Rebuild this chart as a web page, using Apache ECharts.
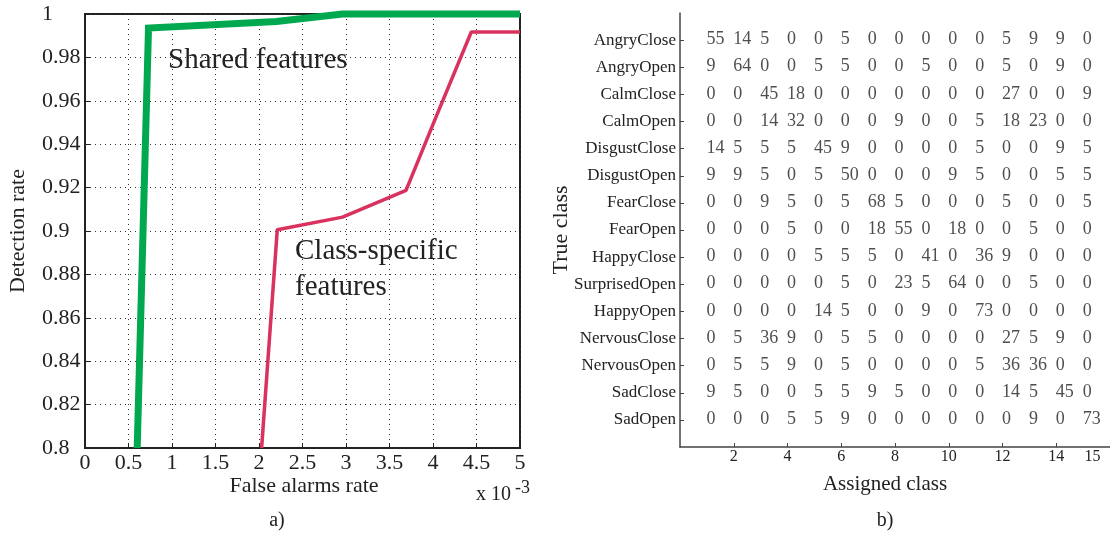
<!DOCTYPE html>
<html>
<head>
<meta charset="utf-8">
<script src="https://cdn.jsdelivr.net/npm/echarts@6/dist/echarts.min.js"></script>
<style>
html,body{margin:0;padding:0;background:#fff;}
#c{width:1110px;height:534px;}
</style>
</head>
<body>
<div id="c"></div>
<script>
// ---- Panel a) ROC-like curves (x in units of 1e-3) ----
const sharedX = [0.60, 0.73, 2.20, 2.96, 5.00];
const sharedY = [0.800, 0.9935, 0.9965, 1.000, 1.000];
const specificX = [2.03, 2.21, 2.96, 3.69, 4.06, 4.44, 5.00];
const specificY = [0.800, 0.9006, 0.9064, 0.9187, 0.955, 0.9917, 0.9917];

// ---- Panel b) confusion matrix ----
const rowNames = ['AngryClose','AngryOpen','CalmClose','CalmOpen','DisgustClose','DisgustOpen',
  'FearClose','FearOpen','HappyClose','SurprisedOpen','HappyOpen','NervousClose','NervousOpen',
  'SadClose','SadOpen'];
const confusion = [
  [55,14,5,0,0,5,0,0,0,0,0,5,9,9,0],
  [9,64,0,0,5,5,0,0,5,0,0,5,0,9,0],
  [0,0,45,18,0,0,0,0,0,0,0,27,0,0,9],
  [0,0,14,32,0,0,0,9,0,0,5,18,23,0,0],
  [14,5,5,5,45,9,0,0,0,0,5,0,0,9,5],
  [9,9,5,0,5,50,0,0,0,9,5,0,0,5,5],
  [0,0,9,5,0,5,68,5,0,0,0,5,0,0,5],
  [0,0,0,5,0,0,18,55,0,18,0,0,5,0,0],
  [0,0,0,0,5,5,5,0,41,0,36,9,0,0,0],
  [0,0,0,0,0,5,0,23,5,64,0,0,5,0,0],
  [0,0,0,0,14,5,0,0,9,0,73,0,0,0,0],
  [0,5,36,9,0,5,5,0,0,0,0,27,5,9,0],
  [0,5,5,9,0,5,0,0,0,0,5,36,36,0,0],
  [9,5,0,0,5,5,9,5,0,0,0,14,5,45,0],
  [0,0,0,5,5,9,0,0,0,0,0,0,9,0,73]
];
const matrixXTicks = [2,4,6,8,10,12,14];
const matrixXLabelPos = [2,4,6,8,10,12,14,15.35];
const matrixXLabels = ['2','4','6','8','10','12','14','15'];

const SERIF = '"Liberation Serif", "DejaVu Serif", serif';
const TXT = '#222';

const matrixData = [];
confusion.forEach((row, r) => row.forEach((v, c) => matrixData.push([c + 1, r + 1, v])));

const chart = echarts.init(document.getElementById('c'), null, {renderer: 'canvas'});
const option = {
  backgroundColor: '#fff',
  animation: false,
  grid: [
    {left: 85, top: 14, width: 435, height: 434, show: true, borderColor: '#222', borderWidth: 2, backgroundColor: 'transparent'},
    {left: 680, top: 13, width: 430, height: 434}
  ],
  xAxis: [
    {
      gridIndex: 0, type: 'value', min: 0, max: 5, interval: 0.5,
      axisLine: {show: true, onZero: false, lineStyle: {color: '#222', width: 2}},
      axisTick: {show: true, inside: true, length: 5, lineStyle: {color: '#222'}},
      axisLabel: {color: TXT, fontFamily: SERIF, fontSize: 22, margin: 4,
        formatter: v => String(+v.toFixed(1))},
      splitLine: {show: true, lineStyle: {color: '#333', width: 1, type: [1, 4]}}
    },
    {
      gridIndex: 1, type: 'value', min: 0, max: 16,
      axisLine: {show: true, onZero: false, lineStyle: {color: '#444', width: 1.5}},
      axisTick: {show: true, inside: true, length: 4, customValues: matrixXTicks, lineStyle: {color: '#444'}},
      axisLabel: {color: TXT, fontFamily: SERIF, fontSize: 16, margin: 2,
        customValues: matrixXLabelPos,
        formatter: v => matrixXLabels[matrixXLabelPos.indexOf(v)]},
      splitLine: {show: false}
    }
  ],
  yAxis: [
    {
      gridIndex: 0, type: 'value', min: 0.8, max: 1, interval: 0.02,
      axisLine: {show: true, onZero: false, lineStyle: {color: '#222', width: 2}},
      axisTick: {show: true, inside: true, length: 5, lineStyle: {color: '#222'}},
      axisLabel: {color: TXT, fontFamily: SERIF, fontSize: 22, margin: 43, align: 'left',
        formatter: v => String(+v.toFixed(2))},
      splitLine: {show: true, lineStyle: {color: '#333', width: 1, type: [1, 4]}}
    },
    {
      gridIndex: 1, type: 'value', min: 0, max: 16, inverse: true,
      axisLine: {show: true, onZero: false, lineStyle: {color: '#444', width: 1.5}},
      axisTick: {show: true, inside: true, length: 4, customValues: rowNames.map((_, i) => i + 1), lineStyle: {color: '#444'}},
      axisLabel: {color: TXT, fontFamily: SERIF, fontSize: 17, margin: 4,
        customValues: rowNames.map((_, i) => i + 1),
        formatter: v => rowNames[Math.round(v) - 1]},
      splitLine: {show: false}
    }
  ],
  series: [
    {
      type: 'line', name: 'Shared features', xAxisIndex: 0, yAxisIndex: 0,
      data: sharedX.map((x, i) => [x, sharedY[i]]),
      showSymbol: false, symbol: 'none', clip: false, silent: true,
      lineStyle: {color: '#00a84f', width: 7, join: 'miter'}
    },
    {
      type: 'line', name: 'Class-specific features', xAxisIndex: 0, yAxisIndex: 0,
      data: specificX.map((x, i) => [x, specificY[i]]),
      showSymbol: false, symbol: 'none', clip: false, silent: true,
      lineStyle: {color: '#d9325e', width: 3.5}
    },
    {
      type: 'scatter', xAxisIndex: 1, yAxisIndex: 1, silent: true,
      data: matrixData, symbolSize: 1, itemStyle: {color: 'rgba(0,0,0,0)'},
      label: {show: true, position: [0, 0], align: 'left', verticalAlign: 'middle',
        formatter: p => String(p.value[2]), color: TXT, fontFamily: SERIF, fontSize: 18}
    }
  ],
  graphic: [
    {type: 'text', x: 168, y: 60, style: {text: 'Shared features', font: '29px ' + SERIF, fill: TXT, align: 'left', verticalAlign: 'middle'}},
    {type: 'text', x: 295, y: 251, style: {text: 'Class-specific', font: '29px ' + SERIF, fill: TXT, align: 'left', verticalAlign: 'middle'}},
    {type: 'text', x: 295, y: 287, style: {text: 'features', font: '29px ' + SERIF, fill: TXT, align: 'left', verticalAlign: 'middle'}},
    {type: 'text', x: 18, y: 231, rotation: Math.PI / 2, style: {text: 'Detection rate', font: '22px ' + SERIF, fill: TXT, align: 'center', verticalAlign: 'middle'}},
    {type: 'text', x: 304, y: 486, style: {text: 'False alarms rate', font: '22px ' + SERIF, fill: TXT, align: 'center', verticalAlign: 'middle'}},
    {type: 'text', x: 476, y: 495, style: {text: 'x 10', font: '20px ' + SERIF, fill: TXT, align: 'left', verticalAlign: 'middle'}},
    {type: 'text', x: 515, y: 488, style: {text: '-3', font: '18px ' + SERIF, fill: TXT, align: 'left', verticalAlign: 'middle'}},
    {type: 'text', x: 277, y: 521, style: {text: 'a)', font: '20px ' + SERIF, fill: TXT, align: 'center', verticalAlign: 'middle'}},
    {type: 'text', x: 561, y: 230, rotation: Math.PI / 2, style: {text: 'True class', font: '22px ' + SERIF, fill: TXT, align: 'center', verticalAlign: 'middle'}},
    {type: 'text', x: 885, y: 484, style: {text: 'Assigned class', font: '21px ' + SERIF, fill: TXT, align: 'center', verticalAlign: 'middle'}},
    {type: 'text', x: 885, y: 521, style: {text: 'b)', font: '20px ' + SERIF, fill: TXT, align: 'center', verticalAlign: 'middle'}}
  ]
};
chart.setOption(option);
</script>
</body>
</html>
